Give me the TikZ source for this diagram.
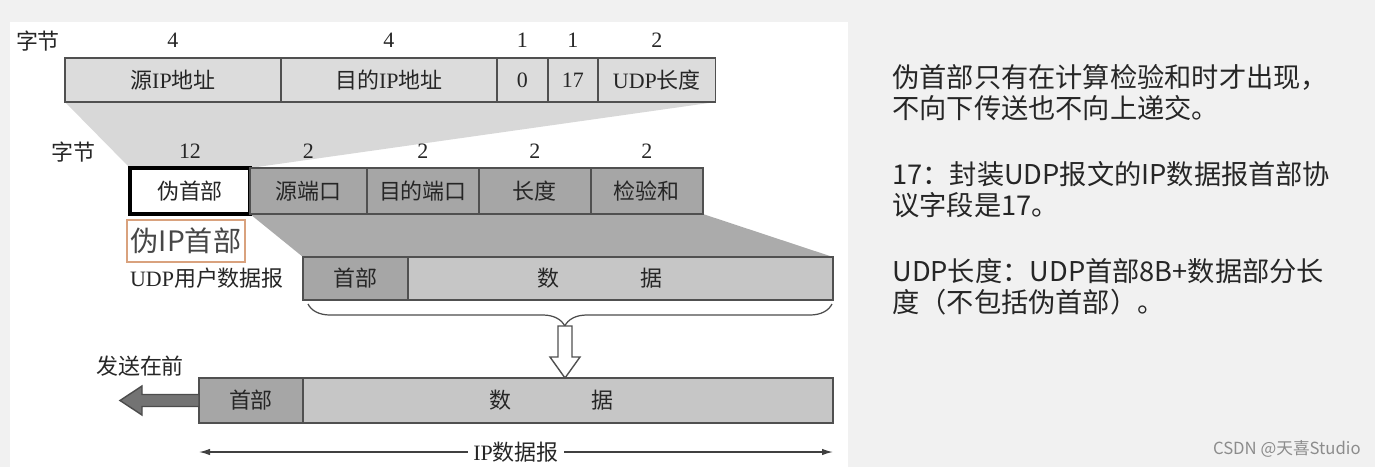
\documentclass[tikz,border=0pt]{standalone}
\usepackage{fontspec}
\setmainfont{Liberation Serif}
\newfontfamily\cjk{Noto Sans CJK SC}
\usetikzlibrary{positioning, calc, backgrounds, arrows.meta, decorations.pathreplacing}
\definecolor{pagegray}{HTML}{F1F1F1}
\definecolor{edgegray}{HTML}{505050}
\definecolor{cpale}{HTML}{DCDCDC}
\definecolor{cfan}{HTML}{D8D8D8}
\definecolor{cmid}{HTML}{C6C6C6}
\definecolor{cdark}{HTML}{A6A6A6}
\definecolor{cdarkfan}{HTML}{ABABAB}
\definecolor{notebrd}{HTML}{D9A27E}
\definecolor{ink}{HTML}{262626}
\newcommand\zh[1]{{\cjk #1}}

\begin{document}
\begin{tikzpicture}[x=0.02cm, y=-0.02cm,
  field/.style={draw=edgegray, line width=0.7pt, inner sep=0pt, outer sep=0pt, text=ink, font=\fontsize{12.5}{14}\selectfont},
  toprow/.style={field, fill=cpale, minimum height=0.88cm},
  udprow/.style={field, fill=cdark, minimum height=0.92cm},
  bytes/.style={inner sep=0pt, text=ink, font=\fontsize{12.5}{14}\selectfont},
  lbl/.style={inner sep=0pt, text=ink, font=\fontsize{12.5}{14}\selectfont},
  note/.style={inner sep=0pt, anchor=west, text=ink, font=\cjk\fontsize{15.5}{17.6}\selectfont},
  hollow/.style={draw=edgegray, fill=white, line width=0.8pt, line join=miter},
  sendarrow/.style={draw=black!70, fill=black!55, line width=0.8pt},
  dim/.style={{Latex[length=2.2mm,width=1.3mm]}-{Latex[length=2.2mm,width=1.3mm]}, draw=black!75, line width=0.8pt}
]
\useasboundingbox (0,0) rectangle (1375,467);

% pseudo header fields
\node[lbl] (bytesA) at (38,41) {\zh{字节}};
\node[toprow, minimum width=4.32cm, anchor=north west] (srcip) at (65,58) {\zh{源}IP\zh{地址}};
\node[toprow, minimum width=4.32cm, right=0pt of srcip] (dstip) {\zh{目的}IP\zh{地址}};
\node[toprow, minimum width=1.02cm, right=0pt of dstip] (zero) {0};
\node[toprow, minimum width=1.0cm, right=0pt of zero] (proto) {17};
\node[toprow, minimum width=2.36cm, right=0pt of proto] (udplen) {UDP\zh{长度}};
\node[bytes, above=6pt of srcip] {4};
\node[bytes, above=6pt of dstip] {4};
\node[bytes, above=6pt of zero] {1};
\node[bytes, above=6pt of proto] {1};
\node[bytes, above=6pt of udplen] {2};

% UDP header fields
\node[lbl] (bytesB) at (73,152) {\zh{字节}};
\node[field, fill=white, draw=black, line width=1.8pt, minimum width=2.4cm, minimum height=0.92cm, anchor=north west] (pseudo) at (130,168) {\zh{伪首部}};
\node[udprow, minimum width=2.34cm, right=0pt of pseudo] (srcport) {\zh{源端口}};
\node[udprow, minimum width=2.24cm, right=0pt of srcport] (dstport) {\zh{目的端口}};
\node[udprow, minimum width=2.24cm, right=0pt of dstport] (ulen) {\zh{长度}};
\node[udprow, minimum width=2.24cm, right=0pt of ulen] (csum) {\zh{检验和}};
\node[bytes, above=5pt of pseudo] {12};
\node[bytes, above=5pt of srcport] {2};
\node[bytes, above=5pt of dstport] {2};
\node[bytes, above=5pt of ulen] {2};
\node[bytes, above=5pt of csum] {2};

\node[draw=notebrd, fill=white, line width=0.8pt, minimum width=2.36cm, minimum height=0.84cm, inner sep=0pt, text=ink!85, font=\cjk\fontsize{16}{18}\selectfont] (pseudonote) at (186,241) {伪IP首部};

% UDP datagram
\node[lbl] (udplbl) at (207,278) {UDP\zh{用户数据报}};
\node[field, fill=cdark, minimum width=2.1cm, minimum height=0.86cm, anchor=north west] (uhdr) at (303,257) {\zh{首部}};
\node[field, fill=cmid, minimum width=8.5cm, minimum height=0.86cm, right=0pt of uhdr] (udata) {\zh{数}\rule{1.62cm}{0pt}\zh{据}\rule{0.8cm}{0pt}};

\coordinate (brL) at (308,304);
\coordinate (brR) at (832,304);
\draw[decorate, decoration={brace, mirror, amplitude=0.44cm, aspect=0.49}, draw=black!70, line width=0.7pt] (brL) -- (brR);
\coordinate (atop) at (565,326);

% IP datagram
\node[field, fill=cdark, minimum width=2.08cm, minimum height=0.9cm, anchor=north west] (ihdr) at (199,378) {\zh{首部}};
\node[field, fill=cmid, minimum width=10.6cm, minimum height=0.9cm, right=0pt of ihdr] (idata) {\zh{数}\rule{1.6cm}{0pt}\zh{据}\rule{0.66cm}{0pt}};
\coordinate (abot) at (atop |- idata.north);
\draw[hollow] ($(atop)+(-7,0)$) -- ($(atop)+(7,0)$) -- ($(atop)+(7,31)$) -- ($(atop)+(15,31)$) -- (abot) -- ($(atop)+(-15,31)$) -- ($(atop)+(-7,31)$) -- cycle;

\node[lbl] (first) at (140,366) {\zh{发送在前}};
\draw[sendarrow] ($(ihdr.west)+(0,-6)$) -- ($(ihdr.west)+(-57,-6)$) -- ($(ihdr.west)+(-57,-14.5)$) -- ($(ihdr.west)+(-79,0)$) -- ($(ihdr.west)+(-57,14.5)$) -- ($(ihdr.west)+(-57,6)$) -- ($(ihdr.west)+(0,6)$) -- cycle;

\coordinate (ipL) at (199,452);
\coordinate (ipR) at (833,452);
\draw[dim] (ipL) -- node[fill=white, inner sep=3pt, text=ink, font=\fontsize{12.5}{14}\selectfont] (iplbl) {IP\zh{数据报}} (ipR);

% notes on the right
\node[note] (n1) at (892,77) {伪首部只有在计算检验和时才出现，};
\node[note] (n2) at (892,108) {不向下传送也不向上递交。};
\node[note] (n3) at (892,174) {17：封装UDP报文的IP数据报首部协};
\node[note] (n4) at (892,205) {议字段是17。};
\node[note] (n5) at (892,271) {UDP长度：UDP首部8B+数据部分长};
\node[note] (n6) at (892,302) {度（不包括伪首部）。};
\node[inner sep=0pt, anchor=east, text=black!45, font=\cjk\fontsize{9.5}{11}\selectfont] (mark) at (1361,449) {CSDN @天喜Studio};

\begin{pgfonlayer}{background}
  \fill[pagegray] (0,0) rectangle (1375,467);
  \fill[white] (10,22) rectangle (848,467);
  \fill[cfan] (srcip.south west) -- (udplen.south east) -- (pseudo.north east) -- (pseudo.north west) -- cycle;
  \fill[cdarkfan] (pseudo.south east) -- (csum.south east) -- (udata.north east) -- (uhdr.north west) -- cycle;
\end{pgfonlayer}
\end{tikzpicture}
\end{document}
